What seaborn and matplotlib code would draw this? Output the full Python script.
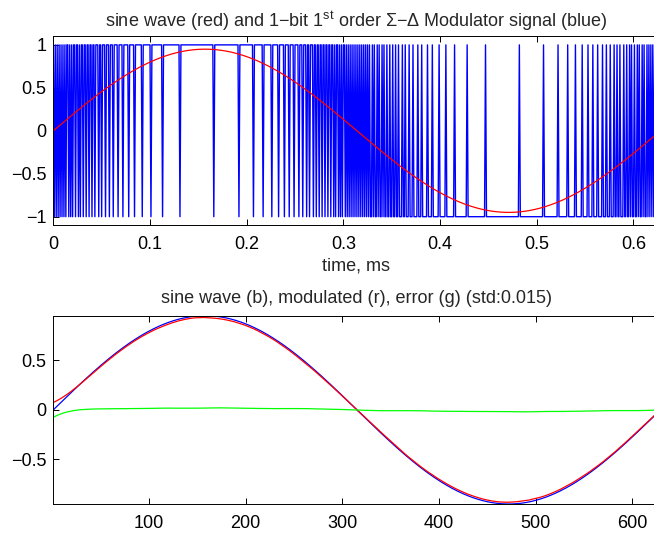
import numpy as np
import pandas as pd
import matplotlib
matplotlib.use("Agg")
import matplotlib.pyplot as plt
import seaborn as sns

# ---- signal parameters ----
n_samples = 628            # samples shown (1 us each -> 0.628 ms)
n_extra = 80               # modulator keeps running past the plotted window
amplitude = 0.95           # sine peak
period_samples = 628       # one full period in the window
dt_ms = 0.001              # sample spacing, ms
filter_sigma = 20.0        # smoothing width of the reconstruction filter (samples)
title_std = "0.015"

top_xticks = [0, 0.1, 0.2, 0.3, 0.4, 0.5, 0.6]
top_xticklabels = ["0", "0.1", "0.2", "0.3", "0.4", "0.5", "0.6"]
top_yticks = [-1, -0.5, 0, 0.5, 1]
top_yticklabels = ["\u22121", "\u22120.5", "0", "0.5", "1"]
bot_xticks = [100, 200, 300, 400, 500, 600]
bot_xticklabels = ["100", "200", "300", "400", "500", "600"]
bot_yticks = [-0.5, 0, 0.5]
bot_yticklabels = ["\u22120.5", "0", "0.5"]

# ---- sigma-delta modulation of the sine ----
idx = np.arange(n_samples + n_extra)
sine_full = amplitude * np.sin(2 * np.pi * idx / period_samples)
bits_full = np.empty_like(sine_full)
acc, prev = 0.0, 0.0
for i, xv in enumerate(sine_full):
    acc += xv - prev
    prev = 1.0 if acc >= 0 else -1.0
    bits_full[i] = prev

half = int(3 * filter_sigma)
m = np.arange(-half, half + 1)
kernel = np.exp(-0.5 * (m / filter_sigma) ** 2)
kernel /= kernel.sum()
padded = np.concatenate([np.zeros(half), bits_full])
filt = np.convolve(padded, kernel, mode="valid")   # centred, zero before start
modulated = filt[:n_samples]
sine = sine_full[:n_samples]
bits = bits_full[:n_samples]
error = sine - modulated

df_top = pd.DataFrame({"t": idx[:n_samples] * dt_ms, "bits": bits, "sine": sine})
df_bot = pd.DataFrame({"n": idx[:n_samples] + 1, "sine": sine,
                       "mod": modulated, "err": error})

# ---- styling ----
sns.set_style("ticks")
plt.rcParams["font.family"] = ["Liberation Sans", "DejaVu Sans"]
plt.rcParams["mathtext.fontset"] = "custom"
plt.rcParams["mathtext.rm"] = "Liberation Sans"
plt.rcParams["mathtext.it"] = "Liberation Sans:italic"
plt.rcParams["axes.linewidth"] = 0.7
fs = 13

fig = plt.figure(figsize=(6.54, 5.36), dpi=100)
ax1 = fig.add_axes([0.0815, 0.5797, 0.927, 0.3526])
ax2 = fig.add_axes([0.0815, 0.0597, 0.927, 0.3513])

sns.lineplot(data=df_top, x="t", y="bits", color="#0000ff", linewidth=1.0, ax=ax1)
sns.lineplot(data=df_top, x="t", y="sine", color="#ff0000", linewidth=0.9, ax=ax1)
ax1.set_xlim(0, (n_samples - 1) * dt_ms)
ax1.set_ylim(-1.1, 1.1)
ax1.set_xticks(top_xticks)
ax1.set_xticklabels(top_xticklabels)
ax1.set_yticks(top_yticks)
ax1.set_yticklabels(top_yticklabels)
ax1.set_xlabel("time, ms", fontsize=fs, labelpad=3)
ax1.set_ylabel("")
ax1.set_title("sine wave (red) and 1\u2212bit 1$^{\\mathrm{st}}$ order \u03a3\u2212\u0394 Modulator signal (blue)",
              fontsize=fs, pad=7)

sns.lineplot(data=df_bot, x="n", y="sine", color="#0000ff", linewidth=0.9, ax=ax2)
sns.lineplot(data=df_bot, x="n", y="mod", color="#ff0000", linewidth=0.9, ax=ax2)
sns.lineplot(data=df_bot, x="n", y="err", color="#00ff00", linewidth=0.9, ax=ax2)
ax2.set_xlim(1, n_samples)
ax2.set_ylim(-amplitude, amplitude)
ax2.set_xticks(bot_xticks)
ax2.set_xticklabels(bot_xticklabels)
ax2.set_yticks(bot_yticks)
ax2.set_yticklabels(bot_yticklabels)
ax2.set_xlabel("")
ax2.set_ylabel("")
ax2.set_title("sine wave (b), modulated (r), error (g) (std:%s)" % title_std,
              fontsize=fs, pad=9)

for ax in (ax1, ax2):
    ax.tick_params(direction="in", top=True, right=True, length=4, width=0.7,
                   labelsize=fs, colors="black")
    ax.tick_params(axis="x", pad=8)
    ax.tick_params(axis="y", pad=5)
    for s in ax.spines.values():
        s.set_color("black")
        s.set_visible(True)

fig.savefig("out.png", dpi=100)
